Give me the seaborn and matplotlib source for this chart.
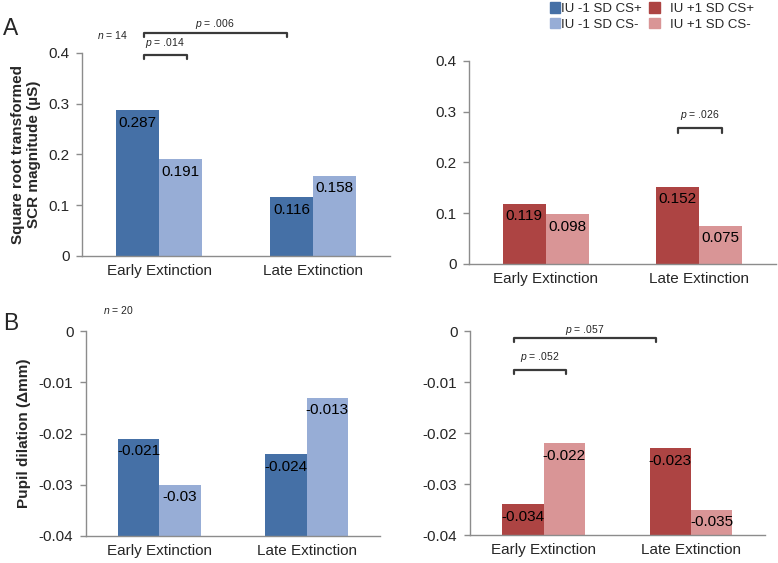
import pandas as pd
import seaborn as sns
import matplotlib.pyplot as plt
from matplotlib.patches import Patch

# values
phases = ["Early Extinction", "Late Extinction"]
conditions = ["CS+", "CS-"]

scr_low_csplus = [0.287, 0.116]
scr_low_csminus = [0.191, 0.158]
scr_high_csplus = [0.119, 0.152]
scr_high_csminus = [0.098, 0.075]

pupil_low_csplus = [-0.021, -0.024]
pupil_low_csminus = [-0.030, -0.013]
pupil_high_csplus = [-0.034, -0.023]
pupil_high_csminus = [-0.022, -0.035]

scr_ticks = [0, 0.1, 0.2, 0.3, 0.4]
pupil_ticks = [-0.04, -0.03, -0.02, -0.01, 0]

low_labels = ["IU -1 SD CS+", "IU -1 SD CS-"]
high_labels = ["IU +1 SD CS+", "IU +1 SD CS-"]

BLUE = ["#4570a6", "#97add6"]
RED = ["#ad4443", "#d99596"]
GREY = "#8c8c8c"

sns.set_style("white")
plt.rcParams["font.family"] = ["Liberation Sans", "DejaVu Sans"]
plt.rcParams["axes.unicode_minus"] = False
plt.rcParams["mathtext.fontset"] = "custom"
plt.rcParams["mathtext.it"] = "Liberation Sans:italic"
plt.rcParams["mathtext.rm"] = "Liberation Sans"


def make_df(plus, minus):
    rows = []
    for i, ph in enumerate(phases):
        rows.append({"phase": ph, "cond": "CS+", "value": plus[i]})
        rows.append({"phase": ph, "cond": "CS-", "value": minus[i]})
    return pd.DataFrame(rows)


def draw_panel(ax, plus, minus, colors, ticks, base=0.0):
    df = make_df(plus, minus)
    sns.barplot(data=df, x="phase", y="value", hue="cond", hue_order=conditions,
                palette=colors, width=0.56, saturation=1, legend=False, ax=ax,
                errorbar=None, edgecolor="none", linewidth=0)
    # bars start from the bottom of the axis (Excel style)
    for cont in ax.containers:
        for bar in cont:
            h = bar.get_height()
            bar.set_y(base)
            bar.set_height(h - base)
    for cont, vals in zip(ax.containers, [plus, minus]):
        for bar, v in zip(cont, vals):
            ax.annotate(f"{v:g}", (bar.get_x() + bar.get_width() / 2, v),
                        xytext=(0, -4), textcoords="offset points",
                        ha="center", va="top", fontsize=11, color="black")
    ax.set_xlim(-0.5, 1.5)
    ax.set_ylim(ticks[0], ticks[-1])
    ax.set_yticks(ticks)
    ax.set_yticklabels([f"{t:g}" for t in ticks], fontsize=11)
    ax.set_xlabel("")
    ax.set_ylabel("")
    ax.tick_params(axis="x", which="major", length=0, labelsize=11, pad=6)
    ax.set_xticks([-0.5, 0.5, 1.5], minor=True)
    ax.tick_params(axis="x", which="minor", length=4, color=GREY, width=1, direction="out")
    ax.tick_params(axis="y", length=4, color=GREY, width=1, direction="out", left=True, pad=5)
    sns.despine(ax=ax)
    for s in ["left", "bottom"]:
        ax.spines[s].set_color(GREY)
        ax.spines[s].set_linewidth(1)


def bracket(ax, x0, x1, y, drop, label, ty):
    ax.plot([x0, x0, x1, x1], [y - drop, y, y, y - drop], color="#3a3a3a",
            lw=1.6, clip_on=False)
    ax.text((x0 + x1) / 2, ty, label, ha="center", va="bottom", fontsize=7.5,
            clip_on=False)


fig = plt.figure(figsize=(7.78, 5.63), dpi=100)
ax_tl = fig.add_axes([0.1054, 0.5453, 0.396, 0.3606])
ax_tr = fig.add_axes([0.6028, 0.5311, 0.3946, 0.3606])
ax_bl = fig.add_axes([0.1105, 0.048, 0.378, 0.364])
ax_br = fig.add_axes([0.604, 0.0497, 0.379, 0.3623])

draw_panel(ax_tl, scr_low_csplus, scr_low_csminus, BLUE, scr_ticks)
draw_panel(ax_tr, scr_high_csplus, scr_high_csminus, RED, scr_ticks)
draw_panel(ax_bl, pupil_low_csplus, pupil_low_csminus, BLUE, pupil_ticks, base=-0.04)
draw_panel(ax_br, pupil_high_csplus, pupil_high_csminus, RED, pupil_ticks, base=-0.04)

ax_tl.set_ylabel("Square root transformed\nSCR magnitude (µS)", fontsize=11,
                 fontweight="bold", labelpad=5)
ax_bl.set_ylabel("Pupil dilation (Δmm)", fontsize=11, fontweight="bold", labelpad=6)

# significance brackets
bracket(ax_tl, -0.10, 0.18, 0.396, 0.008, r"$p$ = .014", 0.405)
bracket(ax_tl, -0.10, 0.83, 0.439, 0.008, r"$p$ = .006", 0.444)
bracket(ax_tr, 0.862, 1.148, 0.268, 0.009, r"$p$ = .026", 0.279)
bracket(ax_br, -0.203, 0.764, -0.0014, 0.0007, r"$p$ = .057", -0.0012)
bracket(ax_br, -0.203, 0.155, -0.0077, 0.0007, r"$p$ = .052", -0.0064)

fig.text(0.004, 0.950, "A", fontsize=16.5, va="center")
fig.text(0.004, 0.426, "B", fontsize=16.5, va="center")
fig.text(0.125, 0.938, r"$n$ = 14", fontsize=7.5, va="center")
fig.text(0.133, 0.449, r"$n$ = 20", fontsize=7.5, va="center")

leg_kw = dict(ncol=1, loc="upper left", frameon=False, fontsize=9.5,
              handlelength=0.8, handleheight=0.8, labelspacing=0.25,
              borderaxespad=0)
leg1 = fig.legend([Patch(color=c) for c in BLUE], low_labels,
                  bbox_to_anchor=(0.700, 1.005), handletextpad=0.05, **leg_kw)
fig.legend([Patch(color=c) for c in RED], high_labels,
           bbox_to_anchor=(0.8274, 1.005), handletextpad=0.8, **leg_kw)

fig.savefig("out.png", dpi=100)
